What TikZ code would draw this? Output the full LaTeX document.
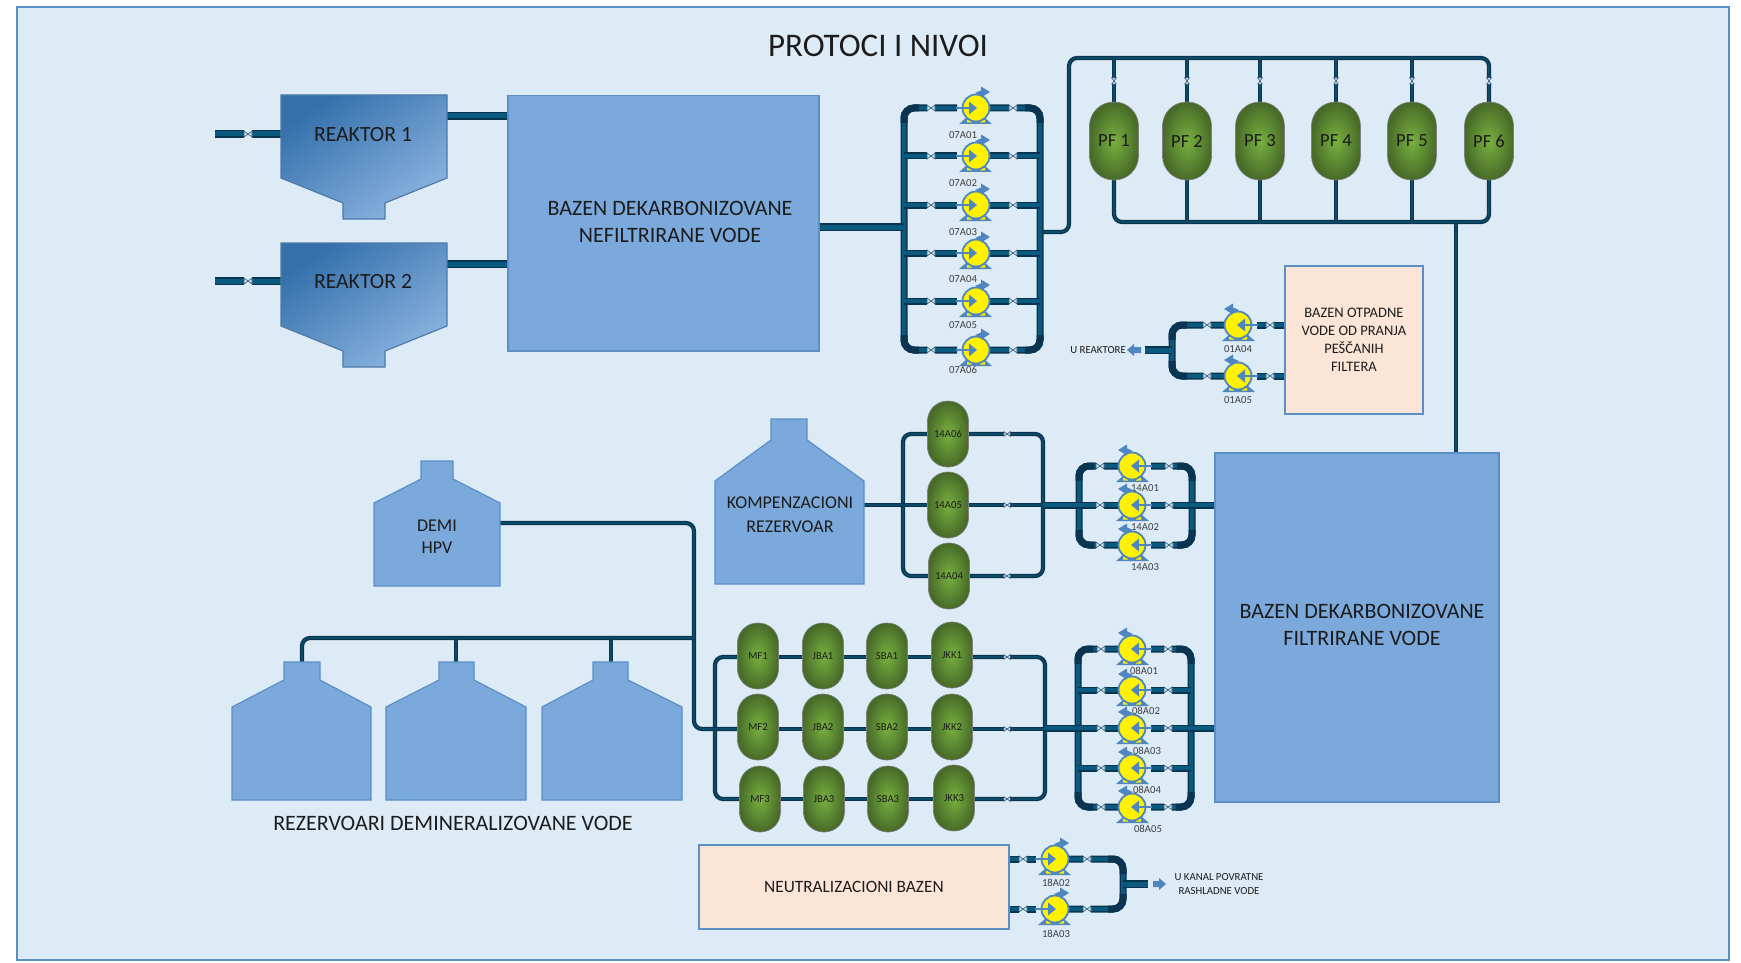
\documentclass[tikz,border=0pt]{standalone}
\usepackage{fontspec}
\usetikzlibrary{calc}
\setmainfont{Carlito}
\pgfdeclarelayer{bg}
\pgfdeclarelayer{pipes}
\pgfsetlayers{bg,pipes,main}
\definecolor{paneblue}{HTML}{DDEBF7}
\definecolor{edgeblue}{HTML}{5B8FC5}
\definecolor{basinblue}{HTML}{7CA9DB}
\definecolor{peach}{HTML}{FBE5D6}
\definecolor{pipedark}{HTML}{0A3550}
\definecolor{pipeteal}{HTML}{095A7E}
\definecolor{pipethin}{HTML}{0D4A68}
\definecolor{pumpblue}{HTML}{4F86BF}
\definecolor{txt}{HTML}{1C1C1C}
\definecolor{HopA}{HTML}{3570AB}
\definecolor{HopB}{HTML}{5B9BD5}
\definecolor{HopC}{HTML}{8AB4E0}
\definecolor{GrA}{HTML}{78B040}
\definecolor{GrB}{HTML}{486B28}
\newcommand\fs[1]{\fontsize{#1}{#1}\selectfont}
\tikzset{
  bpipe/.style={draw=pipedark,line width=1.6pt,double=pipeteal,double distance=5pt},
  mpipe/.style={draw=pipedark,line width=1.6pt,double=pipeteal,double distance=3.8pt},
  spipe/.style={draw=pipedark,line width=1.3pt,double=pipethin,double distance=1.6pt},
  darkbend/.style={draw=pipedark,line width=7pt,rounded corners=10pt},
  basin/.style={draw=edgeblue,line width=1.5pt,fill=basinblue,anchor=north west,inner sep=0pt},
  peachbox/.style={draw=edgeblue,line width=1.8pt,fill=peach,align=center,anchor=north west,text=txt,inner sep=0pt},
  vessel/.style={draw=edgeblue,line width=1.2pt,fill=basinblue},
  hopper/.style={draw=edgeblue!85!black,line width=1.2pt,left color=HopA,middle color=HopB,right color=HopC,shading angle=35},
  lbl/.style={text=txt,align=center,inner sep=0pt},
  tag/.style={lbl,font=\fs{10.7},text=txt!85},
  capsule/.style={rectangle,draw=black!50,line width=0.6pt,inner color=GrA,outer color=GrB,rounded corners=20pt,text=txt,inner sep=0pt,minimum width=41pt,minimum height=66pt,font=\fs{10.7}},
  pfcap/.style={capsule,rounded corners=24pt,minimum width=49pt,minimum height=78pt,font=\fs{18.5}},
  blockarrow/.style={fill=pumpblue},
  pics/pump/.style={code={
    \fill[pumpblue] (-17,16) -- (16,16) -- (9,10) -- (-10,10) -- cycle;
    \fill[yellow] (-9,12) rectangle (-4,14.5) (4,12) rectangle (9,14.5);
    \draw[pumpblue,line width=1.8pt,fill=yellow] (0,0) circle (13.5);
    \draw[pumpblue,line width=1.3pt] (-20,0) -- (-6,0);
    \fill[pumpblue] (-7,-6.5) -- (1,0) -- (-7,6.5) -- cycle;
    \fill[pumpblue] (-1,-15) -- (6,-18) -- (6,-12) -- cycle;
    \fill[pumpblue] (5,-21.5) -- (14,-16) -- (5,-10.5) -- cycle;
  }},
  pics/valve/.style={code={
    \fill[paneblue] (-4,-5.5) rectangle (4,5.5);
    \draw[pipedark!80,line width=0.6pt,fill=cyan!12!paneblue] (-4,-3) -- (4,3) -- (4,-3) -- (-4,3) -- cycle;
  }},
}
\newcommand\pumpR[6]{\coordinate (#1) at (#2,#3); \pic at (#1) {pump}; \node[tag] (t#1) at (#5,#6) {#4};}
\newcommand\pumpL[6]{\coordinate (#1) at (#2,#3); \pic[xscale=-1] at (#1) {pump}; \node[tag] (t#1) at (#5,#6) {#4};}
% dark bends on a rail: rail, first row, last row, direction towards the pumps
\newcommand\bends[4]{\draw[darkbend] ($(#1|-#2)+(#4*15,0)$) -- (#1|-#2) -- ($(#1|-#2)+(0,15)$)
  ($(#1|-#3)+(#4*15,0)$) -- (#1|-#3) -- ($(#1|-#3)+(0,-15)$);}
\newcommand\bankloop[6]{\begin{pgfonlayer}{pipes}\draw[mpipe,rounded corners=10pt]
  ([xshift=#3 pt]#5) -| (#1|-#6) -- ([xshift=#3 pt]#6)
  ([xshift=#4 pt]#5) -| (#2|-#6) -- ([xshift=#4 pt]#6);
  \bends{#1}{#5}{#6}{1}\bends{#2}{#5}{#6}{-1}\end{pgfonlayer}}
\newcommand\bankrow[5]{\begin{pgfonlayer}{pipes}\draw[mpipe] (#1|-#5) -- ([xshift=#3 pt]#5) ([xshift=#4 pt]#5) -- (#2|-#5);\end{pgfonlayer}}
\newcommand\valvesat[3]{\coordinate (vA) at (#1,0); \coordinate (vB) at (#2,0);
  \foreach \n in {#3}{\pic at (vA|-\n) {valve}; \pic at (vB|-\n) {valve};}}
\begin{document}
\begin{tikzpicture}[x=1pt,y=-1pt]
\useasboundingbox (0,0) rectangle (1741,963);
\begin{pgfonlayer}{bg}
\fill[white] (0,0) rectangle (1741,963);
\draw[edgeblue,line width=2pt,fill=paneblue] (17,7) rectangle (1729,960);
\end{pgfonlayer}
\node[lbl,font=\fs{33}] (title) at (878,46) {PROTOCI I NIVOI};

% --- reactors
\shadedraw[hopper] (281,95) -- (447,95) -- (447,178) -- (385,203) -- (385,219) -- (343,219) -- (343,203) -- (281,178) -- cycle;
\shadedraw[hopper] (281,243) -- (447,243) -- (447,326) -- (385,351) -- (385,367) -- (343,367) -- (343,351) -- (281,326) -- cycle;
\node[lbl,font=\fs{21.7}] (R1) at (363,135) {REAKTOR 1};
\node[lbl,font=\fs{21.7}] (R2) at (363,282) {REAKTOR 2};
\coordinate (R1in) at (215,134); \coordinate (R1w) at (281,134); \coordinate (R1e) at (447,116);
\coordinate (R2in) at (215,281); \coordinate (R2w) at (281,281); \coordinate (R2e) at (447,264);

% --- basins
\node[basin,minimum width=311pt,minimum height=255pt] (B1) at (507,95) {};
\node[lbl,font=\fs{22}] (B1t) at (670,222) {BAZEN DEKARBONIZOVANE\\[5pt]NEFILTRIRANE VODE};
\node[basin,minimum width=284pt,minimum height=349pt] (B2) at (1214,452) {};
\node[lbl,font=\fs{22}] (B2t) at (1362,625) {BAZEN DEKARBONIZOVANE\\[5pt]FILTRIRANE VODE};
\node[peachbox,minimum width=138pt,minimum height=148pt,font=\fs{14.5}] (B3) at (1284,265) {BAZEN OTPADNE\\[3.5pt]VODE OD PRANJA\\[3.5pt]PEŠČANIH\\[3.5pt]FILTERA};
\node[peachbox,minimum width=310pt,minimum height=84pt,font=\fs{17.3}] (B4) at (698,844) {NEUTRALIZACIONI BAZEN};

\begin{pgfonlayer}{pipes}
\draw[bpipe] (R1in) -- (R1w) (R1e) -- (B1.west|-R1e);
\draw[bpipe] (R2in) -- (R2w) (R2e) -- (B1.west|-R2e);
\end{pgfonlayer}
\foreach \n in {R1in,R2in}{\pic at ([xshift=33pt]\n) {valve};}

% --- vessels
\draw[vessel] (771,419) -- (807,419) -- (807,440) -- (864,481) -- (864,584) -- (715,584) -- (715,481) -- (771,440) -- cycle;
\node[lbl,font=\fs{18}] (KR) at (790,515) {KOMPENZACIONI\\[6pt]REZERVOAR};
\draw[vessel] (421,461) -- (453,461) -- (453,479) -- (500,503) -- (500,586) -- (374,586) -- (374,503) -- (421,479) -- cycle;
\node[lbl,font=\fs{18}] (DH) at (437,537) {DEMI\\[4pt]HPV};
\draw[vessel] (284,662) -- (320,662) -- (320,680) -- (371,707) -- (371,800) -- (232,800) -- (232,707) -- (284,680) -- cycle;
\draw[vessel] (439,662) -- (474,662) -- (474,680) -- (526,707) -- (526,800) -- (386,800) -- (386,707) -- (439,680) -- cycle;
\draw[vessel] (593,662) -- (628,662) -- (628,680) -- (682,707) -- (682,800) -- (542,800) -- (542,707) -- (593,680) -- cycle;
\node[lbl,font=\fs{22}] (RDV) at (453,823) {REZERVOARI DEMINERALIZOVANE VODE};
\coordinate (KRe) at (864,505); \coordinate (DHe) at (500,523);
\coordinate (N1) at (302,662); \coordinate (N2) at (456,662); \coordinate (N3) at (611,662);
\coordinate (demiA) at (694,638); \coordinate (demiB) at (715,729);

% --- sand filters
\foreach \n/\x/\t in {PF1/1114/PF 1,PF2/1187/PF 2,PF3/1260/PF 3,PF4/1336/PF 4,PF5/1412/PF 5,PF6/1489/PF 6}{
  \node[pfcap] (\n) at (\x,141) {\t};
}
\coordinate (topL) at (1069,58); \coordinate (botY) at (1114,222); \coordinate (topY) at (1114,58);
\begin{pgfonlayer}{pipes}
\draw[spipe,rounded corners=8pt] (1040,232) -- (1069,232) -- (topL) -- (PF6|-topL) -- (PF6.center);
\draw[spipe] (PF1|-topY) -- (PF1) (PF2|-topY) -- (PF2) (PF3|-topY) -- (PF3) (PF4|-topY) -- (PF4) (PF5|-topY) -- (PF5);
\draw[spipe,rounded corners=8pt] (PF1.center) -- (PF1|-botY) -- (PF6|-botY) -- (PF6.center);
\draw[spipe] (PF2) -- (PF2|-botY) (PF3) -- (PF3|-botY) (PF4) -- (PF4|-botY) (PF5) -- (PF5|-botY);
\draw[spipe] (1456,222) -- (B2.north-|1456,0);
\end{pgfonlayer}
\foreach \n in {PF1,PF2,PF3,PF4,PF5,PF6}{\pic[rotate=90,scale=0.8] at (\n|-0,81) {valve};}

% --- bank 07A
\pumpR{P07A01}{976}{108}{07A01}{963}{135}
\pumpR{P07A02}{976}{156}{07A02}{963}{183}
\pumpR{P07A03}{976}{205}{07A03}{963}{232}
\pumpR{P07A04}{976}{253}{07A04}{963}{279}
\pumpR{P07A05}{976}{301}{07A05}{963}{325}
\pumpR{P07A06}{976}{350}{07A06}{963}{370}
\coordinate (r07L) at (904,0); \coordinate (r07R) at (1040,0);
\bankloop{r07L}{r07R}{-19}{13}{P07A01}{P07A06}
\foreach \n in {P07A02,P07A03,P07A04,P07A05}{\bankrow{r07L}{r07R}{-19}{13}{\n}}
\valvesat{931}{1013}{P07A01,P07A02,P07A03,P07A04,P07A05,P07A06}
\coordinate (b1s) at (818,227);
\begin{pgfonlayer}{pipes}\draw[bpipe] (b1s) -- (r07L|-b1s);\end{pgfonlayer}

% --- bank 01A
\pumpL{P01A04}{1238}{325}{01A04}{1238}{349}
\pumpL{P01A05}{1238}{376}{01A05}{1238}{400}
\coordinate (r01L) at (1172,0); \coordinate (stem01) at (1145,350);
\begin{pgfonlayer}{pipes}
\draw[mpipe,rounded corners=10pt] ([xshift=-13pt]P01A04) -| (r01L|-P01A05) -- ([xshift=-13pt]P01A05);
\bends{r01L}{P01A04}{P01A05}{1}
\draw[mpipe] ([xshift=19pt]P01A04) -- (B3.west|-P01A04) ([xshift=19pt]P01A05) -- (B3.west|-P01A05);
\draw[bpipe] (stem01) -- (r01L|-stem01);
\end{pgfonlayer}
\valvesat{1207}{1270}{P01A04,P01A05}
\fill[blockarrow] (1141,347) -- (1134,347) -- (1134,344) -- (1127,350) -- (1134,356) -- (1134,353) -- (1141,353) -- cycle;
\node[lbl,font=\fs{10.8},anchor=east] (UR) at (1126,350) {U REAKTORE};

% --- softener set 14A
\node[capsule] (T06) at (948,434) {14A06};
\node[capsule] (T05) at (948,505) {14A05};
\node[capsule] (T04) at (949,576) {14A04};
\coordinate (r14L) at (903,0); \coordinate (r14R) at (1043,0);
\begin{pgfonlayer}{pipes}
\draw[spipe,rounded corners=8pt] (T06.center) -| (r14L|-T04) -- (T04.center) (T06.center) -| (r14R|-T04) -- (T04.center);
\draw[spipe] (KRe) -- (r14R|-KRe);
\end{pgfonlayer}
\foreach \n in {T06,T05,T04}{\pic[scale=0.8] at (1007,0|-\n) {valve};}

% --- bank 14A
\pumpL{P14A01}{1132}{466}{14A01}{1145}{488}
\pumpL{P14A02}{1132}{505}{14A02}{1145}{527}
\pumpL{P14A03}{1132}{545}{14A03}{1145}{567}
\coordinate (r14a) at (1079,0); \coordinate (r14b) at (1192,0); \coordinate (b2w) at (1214,0);
\bankloop{r14a}{r14b}{-13}{19}{P14A01}{P14A03}
\bankrow{r14a}{r14b}{-13}{19}{P14A02}
\valvesat{1100}{1169}{P14A01,P14A02,P14A03}
\begin{pgfonlayer}{pipes}\draw[mpipe] (r14R|-P14A02) -- (r14a|-P14A02) (r14b|-P14A02) -- (b2w|-P14A02);\end{pgfonlayer}

% --- demi train
\foreach \n/\x/\y/\t in {
 MF1/758/656/MF1,JBA1/823/656/JBA1,SBA1/887/656/SBA1,JKK1/952/655/JKK1,
 MF2/758/727/MF2,JBA2/823/727/JBA2,SBA2/887/727/SBA2,JKK2/952/727/JKK2,
 MF3/760/799/MF3,JBA3/824/799/JBA3,SBA3/888/799/SBA3,JKK3/954/798/JKK3}{
  \node[capsule] (\n) at (\x,\y) {\t};
}
\coordinate (r1) at (1045,0);\coordinate (y1) at (0,657);\coordinate (y2) at (0,729);\coordinate (y3) at (0,799);
\coordinate (l1) at (715,0);
\begin{pgfonlayer}{pipes}
\draw[spipe,rounded corners=8pt] (MF1.center|-y1) -| (l1|-y3) -- (MF3.center|-y3) (JKK1.center|-y1) -| (r1|-y3) -- (JKK3.center|-y3);
\draw[spipe] (MF1|-y1) -- (JKK1|-y1) (MF2|-y2) -- (r1|-y2) (MF3|-y3) -- (JKK3|-y3);
\draw[spipe,rounded corners=8pt] (DHe) -- (694,523) -- (694,729) -- (MF2|-y2);
\draw[spipe,rounded corners=8pt] (N1) -- (302,638) -- (demiA);
\draw[spipe] (N2) -- (N2|-demiA) (N3) -- (N3|-demiA);
\end{pgfonlayer}
\foreach \n in {y1,y2,y3}{\pic[scale=0.8] at (1007,0|-\n) {valve};}

% --- bank 08A
\pumpL{P08A01}{1132}{649}{08A01}{1144}{671}
\pumpL{P08A02}{1132}{690}{08A02}{1146}{711}
\pumpL{P08A03}{1132}{728}{08A03}{1147}{751}
\pumpL{P08A04}{1132}{768}{08A04}{1147}{790}
\pumpL{P08A05}{1132}{807}{08A05}{1148}{829}
\coordinate (r08a) at (1078,0); \coordinate (r08b) at (1191,0);
\bankloop{r08a}{r08b}{-13}{19}{P08A01}{P08A05}
\foreach \n in {P08A02,P08A03,P08A04}{\bankrow{r08a}{r08b}{-13}{19}{\n}}
\valvesat{1101}{1168}{P08A01,P08A02,P08A03,P08A04,P08A05}
\begin{pgfonlayer}{pipes}\draw[mpipe] (r1|-P08A03) -- (r08a|-P08A03) (r08b|-P08A03) -- (b2w|-P08A03);\end{pgfonlayer}

% --- bank 18A
\pumpR{P18A02}{1055}{859}{18A02}{1056}{883}
\pumpR{P18A03}{1055}{909}{18A03}{1056}{934}
\coordinate (r18) at (1123,0); \coordinate (stem18) at (1148,884);
\begin{pgfonlayer}{pipes}
\draw[mpipe] (B4.east|-P18A02) -- ([xshift=-19pt]P18A02) (B4.east|-P18A03) -- ([xshift=-19pt]P18A03);
\draw[mpipe,rounded corners=10pt] ([xshift=13pt]P18A02) -| (r18|-P18A03) -- ([xshift=13pt]P18A03);
\bends{r18}{P18A02}{P18A03}{-1}
\draw[bpipe] (r18|-stem18) -- (stem18);
\end{pgfonlayer}
\valvesat{1023}{1087}{P18A02,P18A03}
\fill[blockarrow] (1153,881) -- (1159,881) -- (1159,878) -- (1166,884) -- (1159,890) -- (1159,887) -- (1153,887) -- cycle;
\node[lbl,font=\fs{10.8}] (UK) at (1219,884) {U KANAL POVRATNE\\[3pt]RASHLADNE VODE};
\end{tikzpicture}
\end{document}
